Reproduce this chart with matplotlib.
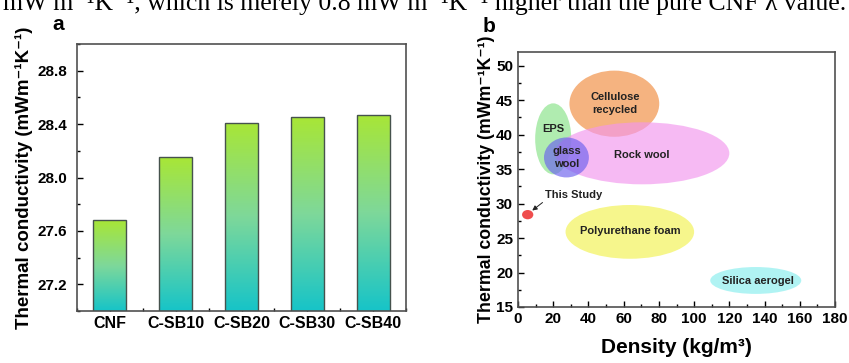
import matplotlib
matplotlib.use("Agg")
import matplotlib.pyplot as plt
import numpy as np
from matplotlib.colors import LinearSegmentedColormap
from matplotlib.patches import Ellipse
from matplotlib.ticker import MultipleLocator

# panel a data
samples = ["CNF", "C-SB10", "C-SB20", "C-SB30", "C-SB40"]
conductivity = [27.68, 28.15, 28.41, 28.45, 28.47]

# panel b data (ellipses in density / conductivity space)
materials = ["Cellulose\nrecycled", "EPS", "Rock wool", "glass\nwool",
             "Polyurethane foam", "Silica aerogel"]
density_center = [54.7, 20.0, 70.5, 27.5, 63.5, 135.0]
lambda_center = [44.5, 39.4, 37.3, 36.7, 25.9, 18.85]
density_span = [51.0, 20.5, 99.0, 25.5, 73.0, 51.7]
lambda_span = [9.6, 10.3, 9.0, 5.8, 7.8, 3.9]
label_x = [55.0, 19.9, 70.0, 27.6, 64.0, 136.0]
label_y = [44.5, 40.9, 37.1, 36.7, 26.0, 18.75]
fill_colors = ["#f08a3c", "#86e286", "#f296ee", "#6a60ee", "#f2f24e", "#86eeee"]

study_density = 5.5
study_lambda = 28.4

plt.rcParams["font.family"] = ["Liberation Sans", "DejaVu Sans"]
plt.rcParams["font.weight"] = "bold"
plt.rcParams["axes.edgecolor"] = "#505050"
plt.rcParams["axes.linewidth"] = 1.2
plt.rcParams["xtick.direction"] = "in"
plt.rcParams["ytick.direction"] = "in"

fig = plt.figure(figsize=(8.49, 3.63), dpi=100)
W, H = 849, 363


def px_axes(l, t, r, b):
    return fig.add_axes([l / W, 1 - b / H, (r - l) / W, (b - t) / H])


# caption line cut off at the top of the page
fig.text(846 / W, 1 - 10 / H,
         "mW m\u207b\u00b9K\u207b\u00b9, which is merely 0.8 mW m\u207b\u00b9K\u207b\u00b9 higher than the pure CNF \u03bb value.",
         family=["Liberation Serif", "DejaVu Serif"], fontweight="normal",
         fontsize=18.5, ha="right", va="baseline")

# ---------------- panel a ----------------
ax1 = px_axes(77, 44, 406, 311)
grad = LinearSegmentedColormap.from_list("g", ["#16c4c8", "#7ed89a", "#a8e636"])
xpos = np.arange(len(samples))
bars = ax1.bar(xpos, conductivity, width=0.5, facecolor="none",
               edgecolor="#46524d", linewidth=1.0, zorder=3)
ax1.set_ylim(27.0, 29.0)
ax1.set_xlim(-0.5, len(samples) - 0.5)
for b in bars:
    x0 = b.get_x()
    top = b.get_height()
    im = ax1.imshow(np.linspace(0, 1, 256).reshape(-1, 1), cmap=grad,
                    origin="lower", aspect="auto",
                    extent=[x0, x0 + b.get_width(), 27.0, top], zorder=2)
    im.set_clip_path(b)
ax1.set_xticks(xpos)
ax1.set_xticklabels(samples)
ax1.xaxis.set_minor_locator(MultipleLocator(0.5))
ax1.set_yticks([27.2, 27.6, 28.0, 28.4, 28.8])
ax1.yaxis.set_minor_locator(MultipleLocator(0.2))
ax1.tick_params(which="major", length=4, width=1)
ax1.tick_params(which="minor", length=2, width=1)
ax1.tick_params(axis="x", labelsize=11.5)
ax1.tick_params(axis="y", which="major", pad=7, labelsize=11)
ax1.tick_params(top=False, right=False, which="both")
ax1.set_ylabel("Thermal conductivity (mWm\u207b\u00b9K\u207b\u00b9)", fontsize=13.5,
               fontweight="bold", labelpad=3)
fig.text(58 / W, 1 - 24 / H, "a", fontsize=15, fontweight="bold",
         ha="center", va="center")

# ---------------- panel b ----------------
ax2 = px_axes(518, 52, 835, 307)
ax2.set_xlim(0, 180)
ax2.set_ylim(15, 52)
for name, cx, cy, w, h, c, lx, ly in zip(materials, density_center, lambda_center,
                                          density_span, lambda_span, fill_colors,
                                          label_x, label_y):
    ax2.add_patch(Ellipse((cx, cy), w, h, facecolor=c, edgecolor="none",
                          alpha=0.65, zorder=2))
    ax2.text(lx, ly, name, fontsize=8, fontweight="bold", color="#222222",
             ha="center", va="center", linespacing=1.4, zorder=4)
ax2.add_patch(Ellipse((study_density, study_lambda), 6.4, 1.35,
                      facecolor="#ee3a3a", edgecolor="none", alpha=0.9, zorder=3))
ax2.annotate("This Study", xy=(study_density + 2.6, study_lambda + 0.6),
             xytext=(15.5, 31.2), fontsize=8, fontweight="bold",
             color="#222222", va="center",
             arrowprops=dict(arrowstyle="-|>", color="#222222", lw=0.7,
                             mutation_scale=7, shrinkA=0, shrinkB=0,
                             relpos=(0.0, 0.0)))
ax2.set_xticks(np.arange(0, 181, 20))
ax2.xaxis.set_minor_locator(MultipleLocator(10))
ax2.set_yticks(np.arange(15, 51, 5))
ax2.yaxis.set_minor_locator(MultipleLocator(2.5))
ax2.tick_params(which="major", length=4, width=1, labelsize=11)
ax2.tick_params(which="minor", length=2, width=1)
ax2.tick_params(top=False, right=False, which="both")
ax2.set_xlabel("Density (kg/m\u00b3)", fontsize=15, fontweight="bold", labelpad=9)
ax2.set_ylabel("Thermal conductivity (mWm\u207b\u00b9K\u207b\u00b9)", fontsize=12.8,
               fontweight="bold", labelpad=1)
fig.text(489 / W, 1 - 26 / H, "b", fontsize=15, fontweight="bold",
         ha="center", va="center")

fig.savefig("out.png", dpi=100)
